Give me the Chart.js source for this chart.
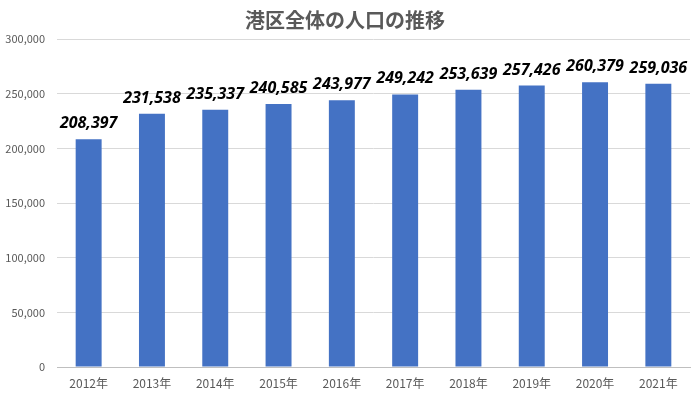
<!DOCTYPE html>
<html>
<head>
<meta charset="utf-8">
<script src="https://cdn.jsdelivr.net/npm/chart.js@4"></script>
<style>
  html, body { margin: 0; padding: 0; background: #fff; }
  #wrap { width: 700px; height: 393px; }
</style>
</head>
<body>
<div id="wrap"><canvas id="popChart"></canvas></div>
<script>
// Data
const years = ['2012年', '2013年', '2014年', '2015年', '2016年', '2017年', '2018年', '2019年', '2020年', '2021年'];
const population = [208397, 231538, 235337, 240585, 243977, 249242, 253639, 257426, 260379, 259036];
const yMax = 300000;
const yStep = 50000;

// Draws the value above each bar
const barLabels = {
    id: 'barLabels',
    afterDatasetsDraw(chart) {
        const ctx = chart.ctx;
        const meta = chart.getDatasetMeta(0);
        ctx.save();
        ctx.font = 'italic bold 16px "Noto Sans", sans-serif';
        ctx.fillStyle = '#000';
        ctx.textAlign = 'center';
        ctx.textBaseline = 'alphabetic';
        meta.data.forEach((bar, i) => {
            ctx.fillText(population[i].toLocaleString('en-US'), bar.x, bar.y - 11);
        });
        ctx.restore();
    }
};

const ctx = document.getElementById('popChart').getContext('2d');
new Chart(ctx, {
    type: 'bar',
    data: {
        labels: years,
        datasets: [{
            data: population,
            backgroundColor: '#4472C4',
            categoryPercentage: 1,
            barPercentage: 0.41
        }]
    },
    options: {
        responsive: true,
        maintainAspectRatio: false,
        animation: false,
        layout: { padding: { left: 0, right: 10, top: 0, bottom: 0 } },
        scales: {
            x: {
                afterFit(scale) { scale.height = 26; },
                grid: { display: false },
                border: { color: '#bfbfbf' },
                ticks: {
                    color: '#595959',
                    font: { family: '"Noto Sans CJK JP", sans-serif', size: 12 },
                    padding: 1,
                    maxRotation: 0
                }
            },
            y: {
                min: 0,
                max: yMax,
                afterFit(scale) { scale.width = 57; },
                border: { display: false },
                grid: { color: '#d9d9d9', drawTicks: false },
                ticks: {
                    stepSize: yStep,
                    color: '#595959',
                    padding: 12,
                    font: { family: '"Noto Sans CJK JP", sans-serif', size: 11 },
                    callback: v => v.toLocaleString('en-US')
                }
            }
        },
        plugins: {
            legend: { display: false },
            tooltip: { enabled: false },
            title: {
                display: true,
                text: '港区全体の人口の推移',
                color: '#595959',
                font: { family: '"Noto Sans CJK JP", sans-serif', size: 20, weight: 'bold' },
                padding: { top: 8, bottom: 7 }
            }
        }
    },
    plugins: [barLabels]
});
</script>
</body>
</html>
